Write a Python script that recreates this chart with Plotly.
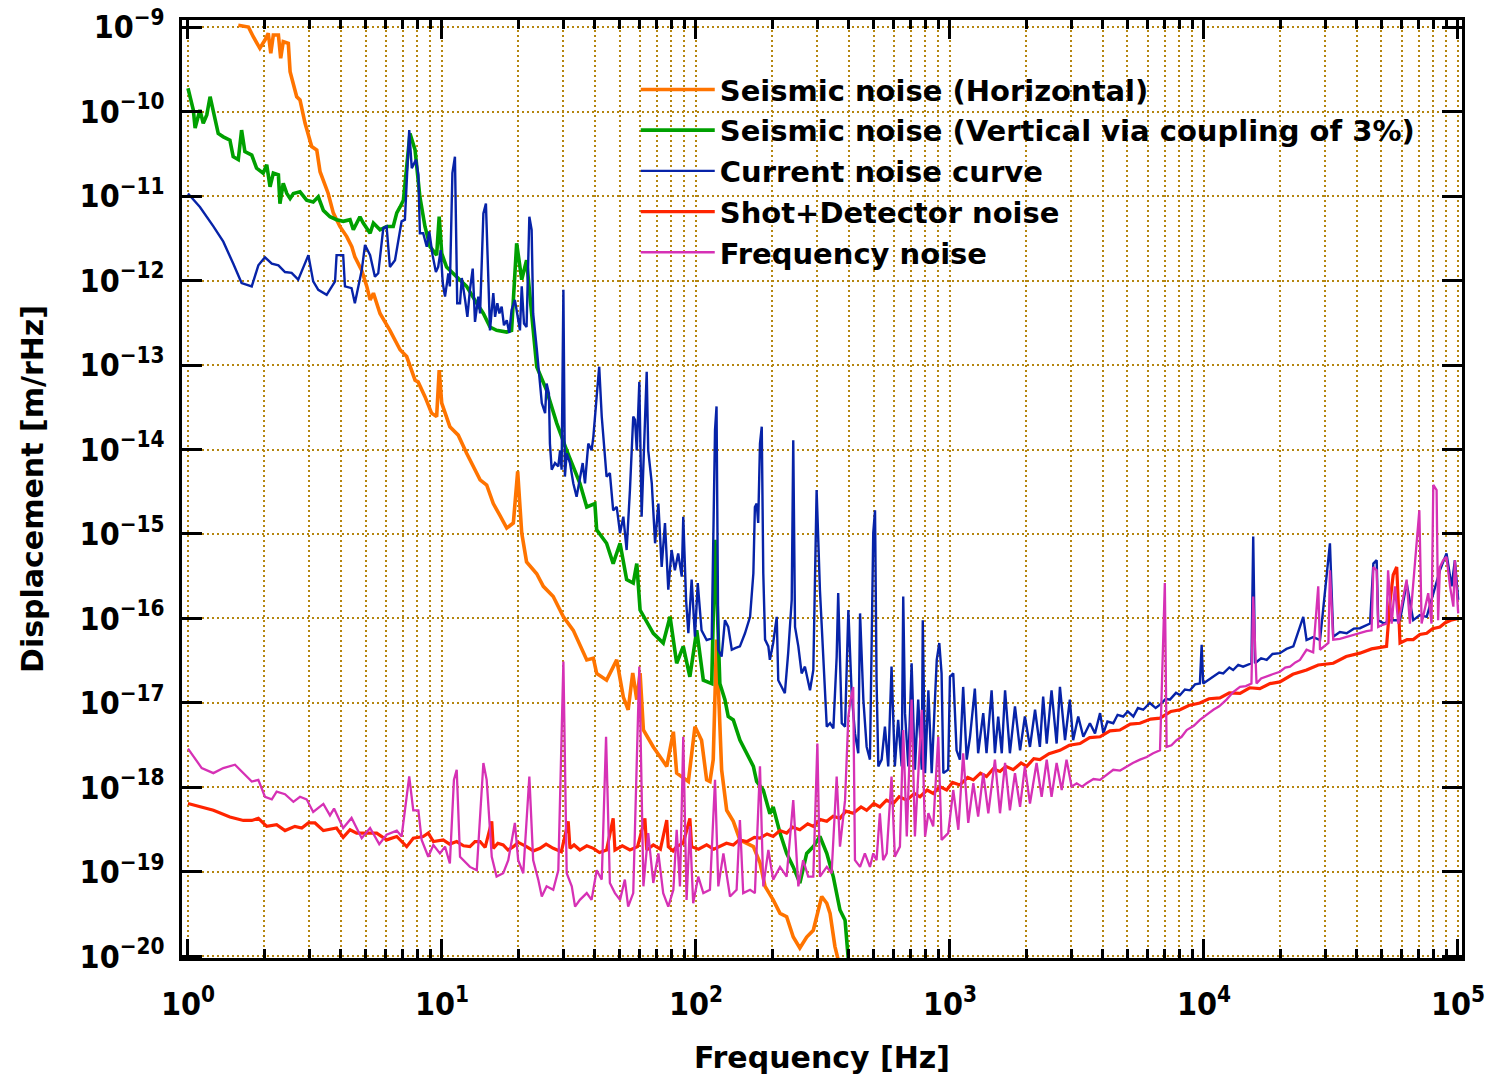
import numpy as np
import plotly.graph_objects as go

# Data, stored as (log10 frequency [Hz], log10 displacement [m/rHz])
seismic_horizontal = [
    (0.198,-8.98),(0.238,-9.00),(0.257,-9.115),(0.283,-9.252),(0.303,-9.154),(0.316,-9.075),(0.326,-9.311),
    (0.336,-9.095),(0.356,-9.095),(0.365,-9.37),(0.375,-9.174),(0.395,-9.193),(0.402,-9.529),(0.428,-9.825),
    (0.441,-9.864),(0.461,-10.14),(0.487,-10.415),(0.507,-10.456),(0.520,-10.712),(0.539,-10.85),(0.552,-10.97),
    (0.572,-11.20),(0.598,-11.36),(0.625,-11.48),(0.645,-11.60),(0.657,-11.72),(0.684,-11.88),(0.704,-12.07),
    (0.717,-12.23),(0.730,-12.15),(0.756,-12.39),(0.795,-12.59),(0.835,-12.82),(0.861,-12.90),(0.894,-13.18),
    (0.906,-13.20),(0.933,-13.375),(0.959,-13.57),(0.979,-13.61),(0.989,-13.06),(0.999,-13.45),(1.031,-13.73),
    (1.064,-13.83),(1.097,-14.045),(1.150,-14.36),(1.176,-14.42),(1.202,-14.64),(1.228,-14.78),(1.255,-14.93),
    (1.281,-14.87),(1.298,-14.26),(1.314,-14.99),(1.333,-15.33),(1.373,-15.47),(1.399,-15.62),(1.438,-15.74),
    (1.478,-15.98),(1.517,-16.14),(1.570,-16.49),(1.596,-16.47),(1.609,-16.65),(1.648,-16.73),(1.688,-16.49),
    (1.714,-16.93),(1.733,-17.08),(1.751,-16.645),(1.767,-16.96),(1.780,-16.645),(1.793,-17.32),(1.832,-17.52),
    (1.858,-17.64),(1.885,-17.75),(1.911,-17.34),(1.924,-17.83),(1.970,-17.93),(1.996,-17.28),(2.022,-17.44),
    (2.042,-17.91),(2.055,-17.93),(2.068,-17.67),(2.081,-16.25),(2.101,-17.79),(2.121,-18.27),(2.147,-18.40),
    (2.173,-18.62),(2.226,-18.70),(2.252,-18.89),(2.272,-19.17),(2.304,-19.33),(2.331,-19.49),(2.357,-19.53),
    (2.383,-19.77),(2.409,-19.90),(2.436,-19.77),(2.462,-19.69),(2.495,-19.29),(2.515,-19.37),(2.528,-19.49),
    (2.547,-19.88),(2.560,-20.04),
]

seismic_vertical = [
    (0.0,-9.725),(0.021,-9.982),(0.028,-10.195),(0.047,-9.982),(0.060,-10.14),(0.074,-10.04),(0.087,-9.825),
    (0.106,-10.10),(0.119,-10.26),(0.139,-10.30),(0.165,-10.34),(0.178,-10.535),(0.198,-10.57),(0.211,-10.22),
    (0.224,-10.475),(0.251,-10.515),(0.270,-10.67),(0.296,-10.73),(0.310,-10.63),(0.323,-10.89),(0.336,-10.73),
    (0.356,-10.75),(0.362,-11.09),(0.375,-10.85),(0.389,-10.97),(0.402,-11.03),(0.415,-10.97),(0.441,-10.95),
    (0.467,-11.05),(0.493,-11.07),(0.513,-11.01),(0.533,-11.17),(0.559,-11.245),(0.585,-11.28),(0.611,-11.30),
    (0.638,-11.28),(0.651,-11.40),(0.677,-11.245),(0.690,-11.32),(0.717,-11.44),(0.730,-11.32),(0.756,-11.40),
    (0.782,-11.36),(0.808,-11.36),(0.822,-11.20),(0.835,-11.13),(0.848,-11.05),(0.874,-10.26),(0.894,-10.455),
    (0.913,-11.01),(0.933,-11.36),(0.953,-11.60),(0.979,-11.70),(0.989,-11.245),(0.999,-11.68),(1.018,-11.84),
    (1.058,-11.955),(1.097,-12.07),(1.137,-12.27),(1.163,-12.39),(1.189,-12.55),(1.215,-12.59),(1.255,-12.61),
    (1.274,-12.59),(1.294,-11.56),(1.314,-11.99),(1.333,-11.76),(1.353,-12.43),(1.373,-13.02),(1.412,-13.30),
    (1.452,-13.69),(1.491,-14.01),(1.543,-14.40),(1.570,-14.68),(1.602,-14.64),(1.609,-14.95),(1.648,-15.11),
    (1.674,-15.35),(1.701,-15.11),(1.727,-15.54),(1.753,-15.58),(1.767,-15.35),(1.780,-15.90),(1.832,-16.175),
    (1.871,-16.29),(1.898,-15.98),(1.924,-16.53),(1.950,-16.33),(1.976,-16.69),(2.003,-16.14),(2.029,-16.73),
    (2.062,-16.77),(2.075,-15.07),(2.094,-16.77),(2.114,-16.96),(2.127,-17.16),(2.147,-17.20),(2.173,-17.44),
    (2.200,-17.60),(2.226,-17.75),(2.239,-17.93),(2.265,-18.03),(2.291,-18.31),(2.304,-18.23),(2.331,-18.54),
    (2.357,-18.78),(2.383,-18.94),(2.409,-19.13),(2.436,-18.78),(2.462,-18.70),(2.488,-18.58),(2.515,-18.78),
    (2.541,-19.06),(2.567,-19.45),(2.587,-19.57),(2.600,-20.04),
]

current_noise = [
    (0.0,-10.97),(0.047,-11.13),(0.100,-11.36),(0.139,-11.54),(0.178,-11.80),(0.211,-12.03),(0.251,-12.07),
    (0.277,-11.82),(0.303,-11.725),(0.330,-11.80),(0.356,-11.82),(0.382,-11.90),(0.408,-11.91),(0.434,-11.99),
    (0.474,-11.70),(0.493,-12.01),(0.513,-12.11),(0.546,-12.17),(0.579,-12.01),(0.585,-11.70),(0.611,-11.70),
    (0.618,-12.07),(0.644,-12.09),(0.657,-12.27),(0.684,-11.88),(0.697,-11.58),(0.717,-11.70),(0.736,-11.955),
    (0.749,-11.915),(0.769,-11.38),(0.782,-11.36),(0.795,-11.84),(0.815,-11.76),(0.841,-11.30),(0.854,-11.28),
    (0.871,-10.22),(0.881,-10.67),(0.898,-10.57),(0.907,-10.75),(0.913,-11.44),(0.926,-11.44),(0.940,-11.60),
    (0.950,-11.42),(0.963,-11.70),(0.976,-11.90),(0.985,-11.84),(0.995,-11.64),(1.003,-12.03),(1.012,-12.19),
    (1.025,-11.915),(1.031,-12.07),(1.041,-10.73),(1.051,-10.535),(1.060,-12.27),(1.071,-12.27),(1.078,-11.97),
    (1.091,-12.23),(1.100,-12.43),(1.110,-12.11),(1.121,-11.86),(1.130,-12.49),(1.143,-12.19),(1.150,-12.39),
    (1.156,-11.90),(1.163,-11.205),(1.173,-11.09),(1.182,-12.11),(1.189,-12.59),(1.202,-12.15),(1.209,-12.43),
    (1.218,-12.27),(1.226,-12.39),(1.235,-12.31),(1.244,-12.53),(1.255,-12.47),(1.265,-12.62),(1.274,-12.35),
    (1.287,-12.23),(1.296,-12.39),(1.307,-12.59),(1.314,-12.07),(1.323,-12.51),(1.333,-12.55),(1.344,-11.245),
    (1.353,-11.40),(1.359,-12.39),(1.373,-12.80),(1.379,-13.02),(1.393,-13.45),(1.406,-13.57),(1.412,-13.22),
    (1.421,-13.335),(1.425,-13.93),(1.432,-14.24),(1.445,-14.16),(1.458,-14.20),(1.465,-14.01),(1.471,-14.24),
    (1.478,-12.11),(1.484,-14.32),(1.491,-14.045),(1.504,-14.16),(1.517,-14.40),(1.530,-14.56),(1.543,-14.32),
    (1.554,-14.16),(1.563,-14.40),(1.576,-13.93),(1.589,-14.01),(1.596,-13.85),(1.609,-13.375),(1.619,-13.02),
    (1.629,-13.61),(1.638,-13.93),(1.648,-14.32),(1.661,-14.28),(1.674,-14.72),(1.688,-14.68),(1.701,-14.99),
    (1.714,-14.795),(1.727,-15.19),(1.740,-14.48),(1.753,-13.61),(1.760,-13.65),(1.767,-14.01),(1.777,-13.20),
    (1.786,-14.795),(1.806,-13.08),(1.812,-14.01),(1.826,-14.40),(1.839,-15.11),(1.852,-14.64),(1.865,-15.39),
    (1.878,-14.87),(1.891,-15.66),(1.904,-15.19),(1.917,-15.43),(1.930,-15.23),(1.944,-15.505),(1.950,-14.795),
    (1.961,-15.78),(1.970,-16.175),(1.983,-15.54),(1.996,-16.215),(2.007,-15.58),(2.022,-16.14),(2.042,-16.255),
    (2.062,-16.235),(2.075,-13.77),(2.081,-13.49),(2.088,-16.37),(2.101,-16.45),(2.114,-16.02),(2.127,-16.10),
    (2.141,-16.37),(2.154,-16.35),(2.173,-16.33),(2.193,-16.175),(2.213,-15.98),(2.226,-15.465),(2.232,-14.68),
    (2.239,-14.64),(2.245,-14.87),(2.252,-13.93),(2.259,-13.73),(2.265,-15.465),(2.272,-16.25),(2.285,-16.33),
    (2.291,-16.49),(2.304,-16.29),(2.318,-15.98),(2.324,-16.73),(2.337,-16.81),(2.350,-16.885),(2.363,-16.41),
    (2.377,-15.78),(2.383,-13.89),(2.390,-16.10),(2.403,-16.33),(2.416,-16.65),(2.429,-16.57),(2.449,-16.85),
    (2.462,-16.61),(2.475,-14.48),(2.488,-15.66),(2.501,-16.45),(2.515,-17.28),(2.528,-17.24),(2.541,-17.30),
    (2.554,-16.45),(2.560,-15.70),(2.574,-17.24),(2.587,-17.28),(2.600,-15.90),(2.613,-16.885),(2.626,-17.36),
    (2.639,-17.595),(2.646,-15.94),(2.659,-16.96),(2.672,-17.52),(2.685,-17.67),(2.698,-14.99),(2.705,-14.72),
    (2.711,-16.73),(2.718,-17.75),(2.731,-17.67),(2.744,-17.28),(2.757,-17.75),(2.770,-16.57),(2.783,-17.75),
    (2.796,-17.20),(2.810,-17.75),(2.816,-15.74),(2.823,-17.12),(2.836,-17.75),(2.849,-16.53),(2.862,-17.79),
    (2.875,-16.96),(2.889,-17.79),(2.893,-16.02),(2.902,-17.83),(2.915,-16.85),(2.928,-17.83),(2.948,-16.49),
    (2.958,-16.29),(2.967,-16.65),(2.974,-17.83),(2.993,-17.79),(3.000,-16.69),(3.013,-16.65),(3.026,-17.56),
    (3.039,-17.67),(3.052,-16.81),(3.066,-17.67),(3.079,-17.40),(3.098,-16.83),(3.111,-17.595),(3.131,-17.12),
    (3.144,-17.595),(3.164,-16.85),(3.177,-17.595),(3.190,-17.16),(3.204,-17.595),(3.217,-16.85),(3.236,-17.595),
    (3.256,-17.04),(3.276,-17.56),(3.295,-17.16),(3.315,-17.52),(3.335,-17.08),(3.354,-17.52),(3.367,-16.925),
    (3.381,-17.48),(3.400,-16.85),(3.420,-17.48),(3.433,-16.81),(3.453,-17.44),(3.472,-16.96),(3.485,-17.44),
    (3.505,-17.16),(3.525,-17.40),(3.551,-17.24),(3.571,-17.36),(3.591,-17.12),(3.604,-17.36),(3.62,-17.22),
    (3.643,-17.24),(3.66,-17.14),(3.682,-17.16),(3.70,-17.10),(3.722,-17.16),(3.74,-17.06),(3.761,-17.08),
    (3.787,-17.00),(3.81,-17.06),(3.827,-17.02),(3.85,-16.95),(3.866,-16.96),(3.89,-16.88),(3.906,-16.905),
    (3.925,-16.84),(3.945,-16.85),(3.965,-16.78),(3.984,-16.77),(3.991,-16.31),(3.997,-16.77),(4.02,-16.72),
    (4.037,-16.69),(4.06,-16.64),(4.076,-16.65),(4.10,-16.58),(4.115,-16.61),(4.135,-16.55),(4.154,-16.57),
    (4.187,-16.53),(4.194,-15.03),(4.201,-16.53),(4.225,-16.47),(4.247,-16.49),(4.27,-16.42),(4.299,-16.41),
    (4.325,-16.36),(4.352,-16.33),(4.391,-15.98),(4.404,-16.255),(4.43,-16.22),(4.457,-16.255),(4.496,-15.11),
    (4.509,-16.215),(4.535,-16.16),(4.562,-16.175),(4.59,-16.12),(4.614,-16.115),(4.654,-16.06),(4.667,-15.35),
    (4.680,-15.31),(4.686,-16.02),(4.71,-16.06),(4.732,-16.02),(4.772,-16.02),(4.798,-15.58),(4.824,-16.02),
    (4.85,-15.96),(4.877,-15.98),(4.929,-15.43),(4.955,-15.23),(4.975,-15.62),(4.988,-15.31),(5.001,-15.78),
]

shot_detector = [
    (0.0,-18.19),(0.05,-18.23),(0.100,-18.27),(0.165,-18.35),(0.218,-18.39),(0.251,-18.39),(0.277,-18.365),
    (0.310,-18.46),(0.349,-18.44),(0.382,-18.51),(0.421,-18.46),(0.448,-18.48),(0.474,-18.42),(0.500,-18.42),
    (0.533,-18.51),(0.585,-18.48),(0.611,-18.59),(0.638,-18.50),(0.664,-18.54),(0.704,-18.54),(0.743,-18.54),
    (0.782,-18.62),(0.822,-18.58),(0.861,-18.70),(0.887,-18.60),(0.926,-18.58),(0.946,-18.54),(0.966,-18.64),
    (1.005,-18.62),(1.03,-18.67),(1.058,-18.64),(1.085,-18.69),(1.110,-18.70),(1.13,-18.64),(1.150,-18.64),
    (1.17,-18.71),(1.196,-18.40),(1.202,-18.72),(1.22,-18.66),(1.241,-18.68),(1.26,-18.74),(1.281,-18.70),
    (1.30,-18.65),(1.333,-18.70),(1.36,-18.75),(1.386,-18.72),(1.41,-18.67),(1.438,-18.72),(1.47,-18.76),
    (1.497,-18.40),(1.504,-18.72),(1.52,-18.68),(1.543,-18.74),(1.57,-18.69),(1.596,-18.72),(1.62,-18.77),
    (1.648,-18.74),(1.674,-18.365),(1.681,-18.74),(1.71,-18.69),(1.740,-18.74),(1.77,-18.70),(1.799,-18.365),
    (1.806,-18.74),(1.832,-18.68),(1.86,-18.73),(1.885,-18.385),(1.891,-18.70),(1.91,-18.75),(1.924,-18.70),
    (1.95,-18.66),(1.976,-18.365),(1.983,-18.70),(2.01,-18.73),(2.042,-18.68),(2.07,-18.73),(2.094,-18.70),
    (2.12,-18.66),(2.147,-18.68),(2.17,-18.62),(2.200,-18.64),(2.23,-18.59),(2.252,-18.60),(2.28,-18.55),
    (2.304,-18.58),(2.33,-18.51),(2.357,-18.54),(2.38,-18.47),(2.409,-18.50),(2.44,-18.43),(2.462,-18.46),
    (2.49,-18.38),(2.515,-18.40),(2.54,-18.34),(2.567,-18.365),(2.59,-18.28),(2.619,-18.305),(2.65,-18.23),
    (2.672,-18.27),(2.70,-18.19),(2.724,-18.23),(2.75,-18.15),(2.777,-18.19),(2.80,-18.11),(2.830,-18.15),
    (2.86,-18.07),(2.882,-18.11),(2.91,-18.03),(2.934,-18.07),(2.96,-17.99),(2.987,-18.03),(3.01,-17.94),
    (3.039,-17.97),(3.07,-17.88),(3.092,-17.91),(3.12,-17.83),(3.144,-17.87),(3.17,-17.78),(3.197,-17.81),
    (3.22,-17.75),(3.249,-17.79),(3.28,-17.71),(3.302,-17.75),(3.33,-17.66),(3.354,-17.67),(3.39,-17.60),
    (3.433,-17.56),(3.47,-17.50),(3.512,-17.48),(3.55,-17.41),(3.591,-17.40),(3.63,-17.33),(3.669,-17.32),
    (3.71,-17.25),(3.748,-17.24),(3.79,-17.19),(3.827,-17.18),(3.87,-17.10),(3.906,-17.08),(3.94,-17.03),
    (3.984,-17.00),(4.02,-16.95),(4.063,-16.94),(4.10,-16.88),(4.142,-16.885),(4.18,-16.82),(4.220,-16.83),
    (4.26,-16.77),(4.299,-16.75),(4.35,-16.66),(4.404,-16.61),(4.45,-16.55),(4.509,-16.53),(4.56,-16.45),
    (4.614,-16.41),(4.66,-16.36),(4.719,-16.33),(4.732,-15.82),(4.745,-15.485),(4.759,-15.39),(4.772,-16.29),
    (4.80,-16.25),(4.824,-16.25),(4.85,-16.19),(4.877,-16.175),(4.90,-16.12),(4.929,-16.10),(4.95,-16.05),
    (4.972,-16.02),(5.001,-16.00),
]

frequency_noise = [
    (0.0,-17.54),(0.054,-17.77),(0.100,-17.83),(0.139,-17.77),(0.185,-17.73),(0.251,-17.93),(0.277,-17.91),
    (0.303,-18.11),(0.330,-18.14),(0.349,-18.05),(0.382,-18.08),(0.415,-18.17),(0.441,-18.11),(0.467,-18.14),
    (0.493,-18.29),(0.533,-18.195),(0.559,-18.33),(0.575,-18.25),(0.611,-18.48),(0.644,-18.36),(0.684,-18.60),
    (0.717,-18.48),(0.753,-18.67),(0.782,-18.56),(0.822,-18.51),(0.841,-18.58),(0.871,-17.87),(0.887,-18.27),
    (0.907,-18.27),(0.920,-18.62),(0.946,-18.82),(0.966,-18.68),(0.992,-18.78),(1.012,-18.70),(1.031,-18.90),
    (1.047,-17.91),(1.058,-17.79),(1.071,-18.82),(1.110,-18.94),(1.137,-18.98),(1.163,-17.71),(1.176,-17.91),
    (1.196,-18.82),(1.215,-19.055),(1.241,-19.015),(1.261,-18.86),(1.287,-18.42),(1.300,-18.86),(1.320,-19.015),
    (1.344,-17.87),(1.359,-18.86),(1.379,-19.09),(1.393,-19.29),(1.412,-19.17),(1.438,-19.21),(1.458,-18.98),
    (1.478,-16.51),(1.491,-19.015),(1.511,-19.17),(1.524,-19.41),(1.543,-19.33),(1.570,-19.25),(1.589,-19.33),
    (1.609,-18.98),(1.629,-19.09),(1.646,-17.40),(1.661,-19.13),(1.681,-19.25),(1.701,-19.33),(1.720,-19.09),
    (1.733,-19.41),(1.753,-19.25),(1.777,-16.57),(1.793,-19.17),(1.812,-18.54),(1.832,-19.13),(1.852,-18.78),
    (1.871,-19.25),(1.891,-19.41),(1.911,-19.21),(1.924,-18.50),(1.937,-19.17),(1.950,-17.40),(1.963,-19.33),
    (1.976,-18.46),(1.989,-19.37),(2.009,-19.055),(2.029,-19.25),(2.055,-19.21),(2.075,-17.91),(2.088,-19.17),
    (2.108,-18.78),(2.134,-19.29),(2.160,-19.21),(2.173,-18.385),(2.186,-19.25),(2.213,-19.21),(2.232,-19.25),
    (2.252,-17.75),(2.265,-19.17),(2.285,-18.74),(2.304,-19.09),(2.331,-18.94),(2.357,-19.055),(2.383,-18.15),
    (2.403,-19.17),(2.422,-18.86),(2.442,-19.055),(2.462,-19.055),(2.478,-17.48),(2.488,-19.055),(2.515,-18.94),
    (2.534,-19.015),(2.554,-17.87),(2.567,-18.70),(2.587,-18.15),(2.600,-17.16),(2.609,-16.96),(2.619,-16.81),
    (2.626,-18.86),(2.646,-18.94),(2.665,-18.78),(2.685,-18.94),(2.698,-18.78),(2.711,-18.86),(2.724,-18.305),
    (2.737,-18.86),(2.751,-18.78),(2.770,-17.87),(2.783,-18.82),(2.803,-18.70),(2.816,-17.32),(2.830,-18.58),
    (2.849,-16.96),(2.862,-18.58),(2.889,-17.08),(2.902,-18.58),(2.915,-18.305),(2.934,-18.46),(2.954,-17.40),
    (2.967,-18.62),(2.993,-18.54),(3.013,-18.03),(3.033,-18.50),(3.052,-17.595),(3.072,-18.42),(3.092,-17.95),
    (3.111,-18.345),(3.131,-17.83),(3.151,-18.305),(3.177,-17.67),(3.197,-18.305),(3.217,-17.71),(3.236,-18.27),
    (3.256,-17.83),(3.276,-18.23),(3.295,-17.75),(3.315,-18.19),(3.341,-17.71),(3.361,-18.11),(3.381,-17.67),
    (3.400,-18.11),(3.420,-17.71),(3.440,-18.03),(3.459,-17.67),(3.479,-17.99),(3.499,-17.95),(3.52,-17.99),
    (3.538,-17.95),(3.565,-17.90),(3.591,-17.91),(3.62,-17.84),(3.643,-17.79),(3.67,-17.80),(3.696,-17.75),
    (3.72,-17.71),(3.748,-17.67),(3.775,-17.64),(3.800,-17.595),(3.827,-17.56),(3.846,-15.58),(3.853,-17.52),
    (3.872,-17.50),(3.892,-17.44),(3.912,-17.40),(3.932,-17.32),(3.96,-17.27),(3.984,-17.20),(4.01,-17.14),
    (4.037,-17.08),(4.06,-17.04),(4.089,-16.96),(4.115,-16.87),(4.142,-16.81),(4.165,-16.80),(4.187,-16.77),
    (4.194,-15.74),(4.207,-16.77),(4.225,-16.71),(4.247,-16.69),(4.27,-16.66),(4.299,-16.63),(4.32,-16.58),
    (4.339,-16.57),(4.36,-16.52),(4.378,-16.49),(4.404,-16.37),(4.43,-16.40),(4.450,-15.62),(4.457,-16.37),
    (4.490,-16.29),(4.496,-15.43),(4.509,-16.25),(4.535,-16.24),(4.562,-16.215),(4.59,-16.19),(4.614,-16.175),
    (4.64,-16.15),(4.660,-16.14),(4.667,-15.39),(4.680,-15.43),(4.686,-16.10),(4.70,-16.08),(4.719,-16.06),
    (4.725,-15.43),(4.739,-16.06),(4.752,-15.62),(4.765,-16.06),(4.798,-15.54),(4.811,-16.06),(4.848,-14.72),
    (4.857,-16.06),(4.883,-15.70),(4.896,-16.06),(4.903,-14.42),(4.916,-14.48),(4.922,-16.02),(4.929,-15.39),
    (4.942,-15.31),(4.955,-15.27),(4.969,-15.62),(4.982,-15.86),(4.988,-15.31),(5.001,-15.94),
]

series_names = [
    "Seismic noise (Horizontal)",
    "Seismic noise (Vertical via coupling of 3%)",
    "Current noise curve",
    "Shot+Detector noise",
    "Frequency noise",
]

x_tick_exponents = [0, 1, 2, 3, 4, 5]
y_tick_exponents = [-9, -10, -11, -12, -13, -14, -15, -16, -17, -18, -19, -20]

series_data = [seismic_horizontal, seismic_vertical, current_noise, shot_detector, frequency_noise]
series_colors = ["#ff7400", "#00a000", "#0723a8", "#ff2400", "#d631b5"]
series_widths = [3.6, 3.6, 2.4, 3.2, 2.3]

fig = go.Figure()
for name, pts, color, width in zip(series_names, series_data, series_colors, series_widths):
    lf = np.array([p[0] for p in pts])
    ld = np.array([p[1] for p in pts])
    fig.add_trace(go.Scatter(
        x=10 ** lf, y=10 ** ld, mode="lines", name=name,
        line=dict(color=color, width=width),
    ))

grid_color = "#b5860f"
grid_dash = "2px,3px"
tick_font = dict(family="DejaVu Sans Condensed, DejaVu Sans, sans-serif", size=32, color="black", weight="bold")
title_font_family = "DejaVu Sans, sans-serif"

minor_x = [k * 10 ** d for d in range(5) for k in range(2, 10)]

fig.update_xaxes(
    type="log",
    range=[-0.0236, 5.016],
    automargin=False,
    ticklabeloverflow="allow",
    tickmode="array",
    tickvals=[10 ** e for e in x_tick_exponents],
    ticktext=[f"10<sup>{e}</sup>" for e in x_tick_exponents],
    ticks="inside", ticklen=19, tickwidth=2.5, tickcolor="black",
    showline=True, linewidth=3, linecolor="black", mirror="ticks",
    showgrid=True, gridcolor=grid_color, gridwidth=2, griddash=grid_dash,
    zeroline=False,
    minor=dict(tickmode="array", tickvals=minor_x, ticks="inside", ticklen=9, tickwidth=2.5,
               tickcolor="black", showgrid=True, gridcolor=grid_color, gridwidth=2, griddash=grid_dash),
    tickfont=tick_font,
    ticklabelstandoff=16,
    title=dict(text="Frequency [Hz]", font=dict(family=title_font_family, size=30, color="black", weight="bold"),
               standoff=25),
)
fig.update_yaxes(
    type="log",
    range=[-20.018, -8.917],
    automargin=False,
    ticklabeloverflow="allow",
    tickmode="array",
    tickvals=[10.0 ** e for e in y_tick_exponents],
    ticktext=[f"10<sup>\u2212{-e}</sup>" for e in y_tick_exponents],
    ticks="inside", ticklen=20, tickwidth=2.5, tickcolor="black",
    showline=True, linewidth=3, linecolor="black", mirror="ticks",
    showgrid=True, gridcolor=grid_color, gridwidth=2, griddash=grid_dash,
    zeroline=False,
    tickfont=tick_font,
    ticklabelstandoff=8,
    title=dict(text="Displacement [m/rHz]", font=dict(family=title_font_family, size=30, color="black", weight="bold"),
               standoff=28),
)

fig.update_layout(
    width=1488, height=1080, autosize=False,
    margin=dict(l=182, r=26, t=20, b=122),
    paper_bgcolor="white", plot_bgcolor="white",
    showlegend=True,
    legend=dict(
        x=0.3545, y=0.953, xanchor="left", yanchor="top",
        bgcolor="rgba(0,0,0,0)", borderwidth=0,
        font=dict(family=title_font_family, size=29, color="black", weight="bold"),
        itemwidth=74, tracegroupgap=0,
    ),
)

fig.write_html("out.html")
